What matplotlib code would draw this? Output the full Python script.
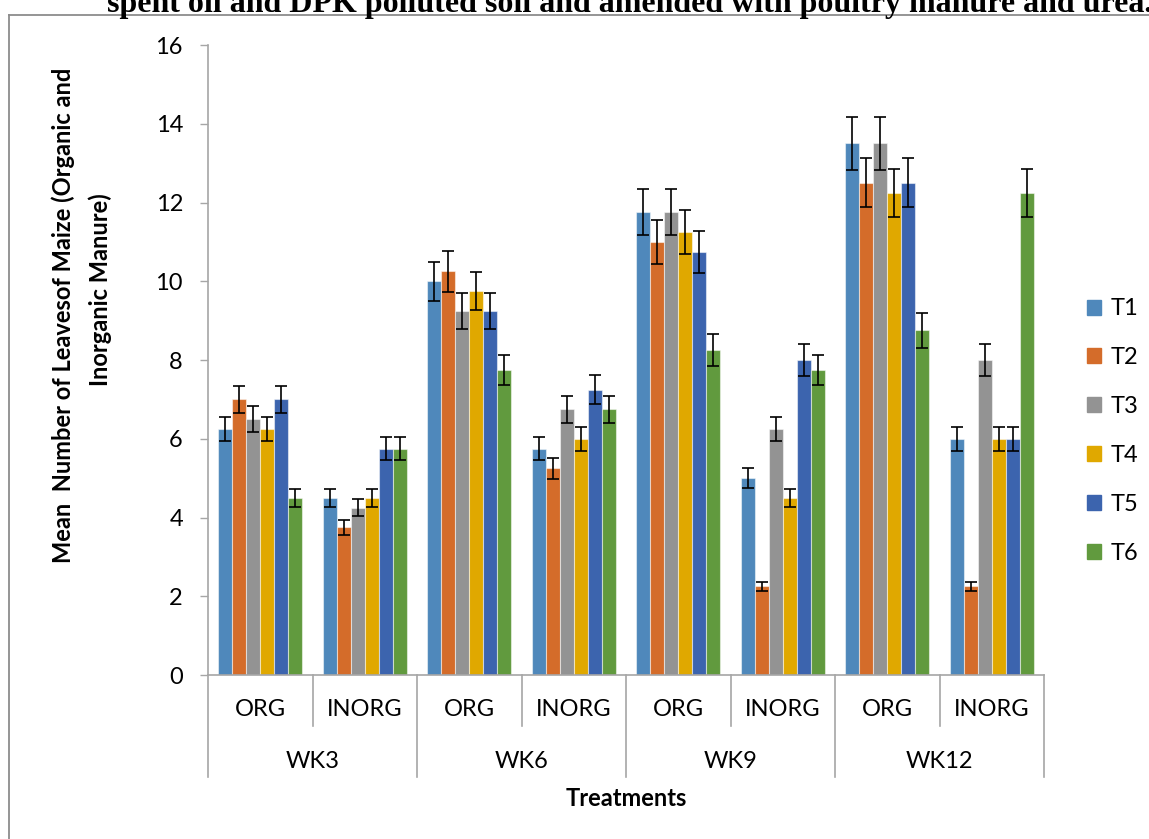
import matplotlib
matplotlib.use("Agg")
import matplotlib.pyplot as plt
from matplotlib.lines import Line2D
import numpy as np

# ---------------- data ----------------
weeks = ["WK3", "WK6", "WK9", "WK12"]
manures = ["ORG", "INORG"]
treatments = ["T1", "T2", "T3", "T4", "T5", "T6"]

T1 = [6.25, 4.5, 10.0, 5.75, 11.75, 5.0, 13.5, 6.0]
T2 = [7.0, 3.75, 10.25, 5.25, 11.0, 2.25, 12.5, 2.25]
T3 = [6.5, 4.25, 9.25, 6.75, 11.75, 6.25, 13.5, 8.0]
T4 = [6.25, 4.5, 9.75, 6.0, 11.25, 4.5, 12.25, 6.0]
T5 = [7.0, 5.75, 9.25, 7.25, 10.75, 8.0, 12.5, 6.0]
T6 = [4.5, 5.75, 7.75, 6.75, 8.25, 7.75, 8.75, 12.25]
series = [T1, T2, T3, T4, T5, T6]
ERR_PCT = 0.05  # percentage error bars (Excel setting)

title = "spent oil and DPK polluted soil and amended with poultry manure and urea."
ylabel_l1 = "Mean  Number of Leavesof Maize (Organic and"
ylabel_l2 = "Inorganic Manure)"
xlabel = "Treatments"

colors = ["#4f88bb", "#d46c2a", "#939393", "#e0a800", "#3c64ae", "#619a3e"]

# ---------------- figure ----------------
W, H = 1149, 839
fig = plt.figure(figsize=(W / 100, H / 100), dpi=100)
plt.rcParams['font.family'] = ['Lato', 'DejaVu Sans']
FS = 17
GRAY = "#a6a6a6"

ax_l, ax_r, ax_t, ax_b = 208, 1044, 45, 675
ax = fig.add_axes([ax_l / W, 1 - ax_b / H, (ax_r - ax_l) / W, (ax_b - ax_t) / H])

ncat = len(weeks) * len(manures)
x = np.arange(ncat)
bw = 1 / 7.5
for i, (s, c, lab) in enumerate(zip(series, colors, treatments)):
    vals = np.array(s)
    ax.bar(x + (i - 2.5) * bw, vals, width=bw, color=c, edgecolor=(1, 1, 1, 0.5),
           linewidth=0.8, label=lab, zorder=2)
    ax.errorbar(x + (i - 2.5) * bw, vals, yerr=vals * ERR_PCT, fmt='none',
                ecolor='black', elinewidth=1.2, capsize=4.5, capthick=1.2, zorder=3)

ax.set_xlim(-0.5, ncat - 0.5)
ax.set_ylim(0, 16)
ax.set_yticks(np.arange(0, 17, 2))
ax.tick_params(axis='y', length=6, width=1, color=GRAY, labelsize=FS, pad=12)
ax.set_xticks([])
for sp in ["top", "right"]:
    ax.spines[sp].set_visible(False)
for sp in ["left", "bottom"]:
    ax.spines[sp].set_color(GRAY)
    ax.spines[sp].set_linewidth(1.2)

ah = ax_b - ax_t
def ay(py):
    return (ax_b - py) / ah

trans = ax.get_xaxis_transform()
for k in range(ncat + 1):
    xe = k - 0.5
    yend = ay(777) if k % 2 == 0 else ay(726)
    ax.add_line(Line2D([xe, xe], [0, yend], transform=trans, color=GRAY,
                       lw=1.2, clip_on=False))
for j in range(ncat):
    ax.text(j, ay(709), manures[j % 2], transform=trans, ha='center', va='center',
            fontsize=FS)
for g, wk in enumerate(weeks):
    ax.text(2 * g + 0.5, ay(762), wk, transform=trans, ha='center', va='center',
            fontsize=FS)
ax.text(0.5, ay(798), xlabel, transform=ax.transAxes, ha='center', va='center',
        fontsize=FS, fontweight='bold')

# y label, two lines
fig.text(63 / W, 1 - 315 / H, ylabel_l1, rotation=90, ha='center', va='center',
         fontsize=FS, fontweight='bold')
fig.text(100 / W, 1 - 290 / H, ylabel_l2, rotation=90, ha='center', va='center',
         fontsize=FS, fontweight='bold')

# legend
leg = fig.legend(handles=[plt.Rectangle((0, 0), 1, 1, color=c) for c in colors],
                 labels=treatments, loc='center left',
                 bbox_to_anchor=(1087 / W, 1 - 431 / H), frameon=False,
                 borderpad=0, borderaxespad=0,
                 fontsize=FS, handlelength=0.6, handleheight=0.6,
                 handletextpad=0.4, labelspacing=1.18)

# frame border
fig.add_artist(Line2D([9 / W, 1], [1 - 15 / H, 1 - 15 / H], transform=fig.transFigure,
                      color="#8c8c8c", lw=1.3))
fig.add_artist(Line2D([9 / W, 9 / W], [0, 1 - 15 / H], transform=fig.transFigure,
                      color="#8c8c8c", lw=1.3))

# cut-off title (cut off at the top edge as in the reference)
t = fig.text(107 / W, 1 - 12 / H, title, ha='left', va='baseline',
             fontsize=20, fontweight='bold', family=['Liberation Serif'])
fig.canvas.draw()
wpx = t.get_window_extent().width
t.set_fontsize(20 * 1045 / wpx)

fig.savefig("out.png", dpi=100)
